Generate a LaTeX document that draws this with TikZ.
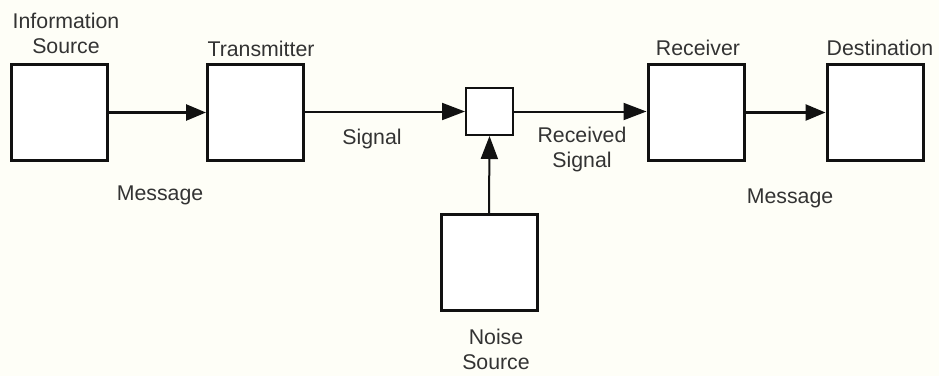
\documentclass[tikz,border=0pt]{standalone}
\usepackage{fontspec}
\setmainfont{Liberation Sans}
\usetikzlibrary{arrows.meta}
\definecolor{paper}{HTML}{FEFEF7}
\definecolor{ink}{HTML}{111111}
\definecolor{labelgray}{HTML}{333333}
\begin{document}
\begin{tikzpicture}[x=1pt,y=-1pt,
  block/.style={draw=ink, fill=white, line width=3pt, minimum width=96pt, minimum height=96pt, inner sep=0pt},
  mixer/.style={draw=ink, fill=white, line width=2pt, minimum width=47pt, minimum height=47pt, inner sep=0pt},
  caption/.style={text=labelgray, font=\fontsize{21.3}{25}\selectfont, align=center, inner sep=0pt},
  msgarrow/.style={draw=ink, line width=2.6pt, -{Triangle[length=20pt,width=16pt]}},
  sigarrow/.style={draw=ink, line width=2pt, -{Triangle[length=23pt,width=17pt]}}]
  \fill[paper] (0,0) rectangle (939,376);
  \useasboundingbox (0,0) rectangle (939,376);

  % main chain of blocks
  \node[block] (src)  at (59.5,112.5) {};
  \node[block] (tx)   at (255.5,112.5) {};
  \node[mixer] (mix)  at (489.5,111.5) {};
  \node[block] (rx)   at (696,112.5) {};
  \node[block] (dst)  at (875,112.5) {};
  \node[block] (noise) at (489,262.5) {};

  % connectors
  \draw[msgarrow] (src.east) -- (tx.west);
  \draw[sigarrow] (tx.east |- mix.west) -- (mix.west);
  \draw[sigarrow] (mix.east) -- (rx.west |- mix.east);
  \draw[msgarrow] (rx.east) -- (dst.west);
  \draw[sigarrow] (noise.north) -- (mix.south);

  % captions
  \node[caption] (lsrc)  at (66,33) {Information\\Source};
  \node[caption] (ltx)   at (261,49) {Transmitter};
  \node[caption] (lrx)   at (698,48) {Receiver};
  \node[caption] (ldst)  at (880,48) {Destination};
  \node[caption] (lmsg1) at (160,195) {Message};
  \node[caption] (lsig)  at (372,139) {Signal};
  \node[caption] (lrsig) at (582,149) {Received\\Signal};
  \node[caption] (lmsg2) at (790,198) {Message};
  \node[caption] (lnoise) at (496,349) {Noise\\Source};
\end{tikzpicture}
\end{document}
